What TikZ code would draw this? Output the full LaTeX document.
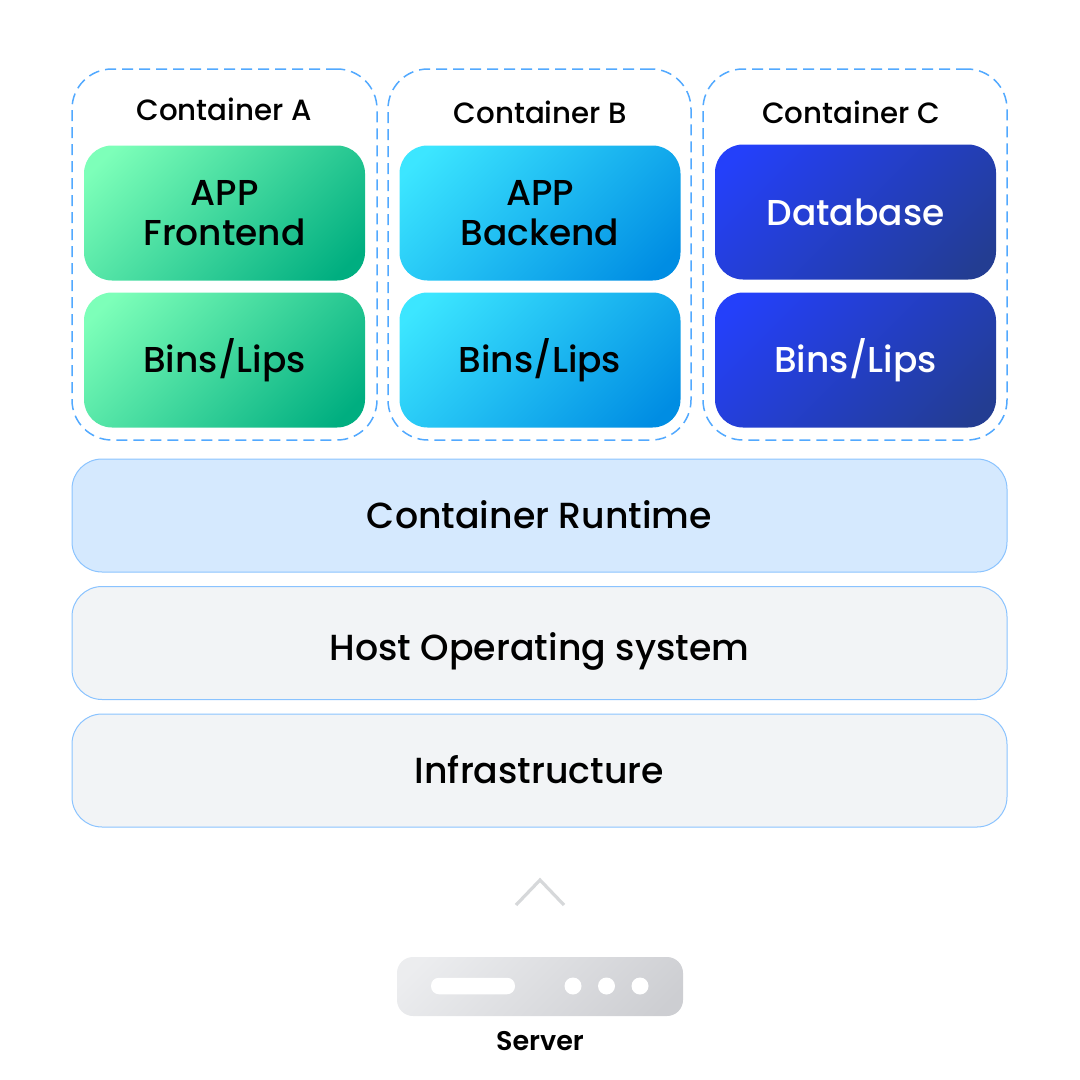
\documentclass[tikz,border=0pt]{standalone}
\usepackage{fontspec}
\setmainfont{Poppins Medium}[BoldFont=Poppins SemiBold]
\usetikzlibrary{positioning}
\definecolor{dashblue}{HTML}{52A9FF}
\definecolor{barline}{HTML}{8AC3FF}
\definecolor{runtimefill}{HTML}{D5E9FE}
\definecolor{hostfill}{HTML}{F2F4F6}
\definecolor{chevgray}{HTML}{D6D8DA}
\definecolor{greenstart}{HTML}{7DFFB9}
\definecolor{greenend}{HTML}{00AE80}
\definecolor{cyanstart}{HTML}{3CE6FF}
\definecolor{cyanend}{HTML}{008DE3}
\definecolor{navystart}{HTML}{2440FA}
\definecolor{navyend}{HTML}{233D92}
\definecolor{servstart}{HTML}{ECEDEF}
\definecolor{servend}{HTML}{CDCED2}
\pgfdeclareverticalshading{greenfade}{100bp}{color(0bp)=(greenend); color(20bp)=(greenend); color(80bp)=(greenstart); color(100bp)=(greenstart)}
\pgfdeclareverticalshading{cyanfade}{100bp}{color(0bp)=(cyanend); color(20bp)=(cyanend); color(80bp)=(cyanstart); color(100bp)=(cyanstart)}
\pgfdeclareverticalshading{navyfade}{100bp}{color(0bp)=(navyend); color(20bp)=(navyend); color(80bp)=(navystart); color(100bp)=(navystart)}
\pgfdeclareverticalshading{servfade}{100bp}{color(0bp)=(servend); color(20bp)=(servend); color(80bp)=(servstart); color(100bp)=(servstart)}
\tikzset{
  container/.style={draw=dashblue,line width=1.5pt,dash pattern=on 11pt off 6pt,rounded corners=40pt,minimum height=371pt,inner sep=0pt},
  title/.style={font=\fontsize{29.3}{30}\selectfont,inner sep=0pt},
  block/.style={rounded corners=28pt,minimum height=135pt,minimum width=281pt,inner sep=0pt,align=center,shade,shading angle=45,font=\fontsize{36}{40}\selectfont},
  greenblock/.style={block,shading=greenfade},
  cyanblock/.style={block,shading=cyanfade},
  navyblock/.style={block,shading=navyfade,text=white},
  bar/.style={draw=barline,line width=1pt,rounded corners=30pt,minimum width=935pt,minimum height=113pt,inner sep=0pt,text height=26pt,text depth=0pt,font=\fontsize{36.3}{40}\selectfont},
  slot/.style={fill=white,inner sep=0pt}
}
\begin{document}
\begin{tikzpicture}[x=1pt,y=-1pt]
  \useasboundingbox (0,0) rectangle (1080,1080);
  % dashed frames
  \node[container,minimum width=305pt] (cont_a) at (224.5,254.5) {};
  \node[container,minimum width=303pt] (cont_b) at (539.5,254.5) {};
  \node[container,minimum width=304pt] (cont_c) at (855,254.5) {};
  \node[title] (title_a) at (224,109) {Container A};
  \node[title] (title_b) at (540.5,112) {Container B};
  \node[title] (title_c) at (851,112) {Container C};
  % blocks
  \node[greenblock] (app_a) at (224.5,213) {APP\\Frontend};
  \node[greenblock] (bins_a) at (224.5,360) {Bins/Lips};
  \node[cyanblock] (app_b) at (540,213) {APP\\Backend};
  \node[cyanblock] (bins_b) at (540,360) {Bins/Lips};
  \node[navyblock] (app_c) at (855.5,212) {Database};
  \node[navyblock] (bins_c) at (855.5,360) {Bins/Lips};
  % layers
  \node[bar,fill=runtimefill] (runtime) at (539.5,515.5) {Container Runtime};
  \node[bar,fill=hostfill,text height=34pt] (host) at (539.5,643) {Host Operating system};
  \node[bar,fill=hostfill] (infra) at (539.5,770.5) {Infrastructure};
  % server
  \draw[chevgray,line width=3.2pt] (516,905) -- (540,880) -- (564,905);
  \node[rounded corners=16pt,minimum width=286pt,minimum height=59pt,inner sep=0pt,shade,shading=servfade,shading angle=45] (server) at (540,986.5) {};
  \node[slot,rounded corners=8pt,minimum width=84pt,minimum height=16.5pt] (slot) at (473,986) {};
  \node[slot,circle,minimum size=17pt] (led_a) at (573,986) {};
  \node[slot,circle,minimum size=17pt] (led_b) at (606.5,986) {};
  \node[slot,circle,minimum size=17pt] (led_c) at (640,986) {};
  \node[font=\fontsize{27}{30}\selectfont\bfseries,inner sep=0pt] (server_label) at (540,1041) {Server};
\end{tikzpicture}
\end{document}
